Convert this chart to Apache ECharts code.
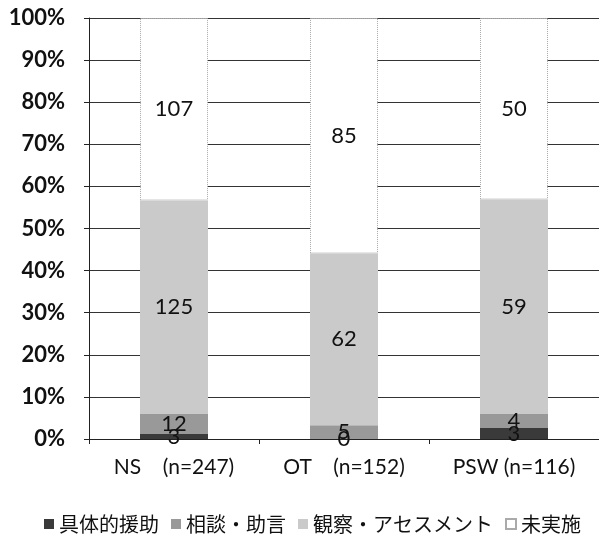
<!DOCTYPE html>
<html><head><meta charset="utf-8">
<script src="https://cdn.jsdelivr.net/npm/echarts@6/dist/echarts.min.js"></script>
<style>html,body{margin:0;padding:0;background:#fff}#c{width:599px;height:543px}</style>
</head><body><div id="c"></div>
<script>
var categories = ['NS    (n=247)', 'OT    (n=152)', 'PSW (n=116)'];
var seriesNames = ['具体的援助', '相談・助言', '観察・アセスメント', '未実施'];
var concrete = [3, 0, 3];
var consult = [12, 5, 4];
var observe = [125, 62, 59];
var notDone = [107, 85, 50];
var yTicks = [0, 10, 20, 30, 40, 50, 60, 70, 80, 90, 100];

var raw = [concrete, consult, observe, notDone];
var totals = categories.map(function (_, i) { return raw.reduce(function (s, a) { return s + a[i]; }, 0); });
var colors = ['#3a3a3a', '#999999', '#cacaca', '#ffffff'];

var series = raw.map(function (arr, k) {
  return {
    name: seriesNames[k], type: 'bar', stack: 'all', barWidth: '40%',
    data: arr.map(function (v, i) { return { value: v / totals[i] * 100, raw: v }; }),
    itemStyle: k === 3 ? { color: '#fff', borderColor: '#aaa', borderWidth: 1, borderType: 'dotted' } : { color: colors[k] },
    label: {
      show: true, position: 'inside', color: '#111', fontSize: 22, fontFamily: 'Lato',
      formatter: function (p) { return p.data.raw; }
    }
  };
});

var chart = echarts.init(document.getElementById('c'), null, { renderer: 'canvas' });
chart.setOption({
  animation: false,
  grid: { left: 89, right: -3, top: 18, bottom: 104 },
  xAxis: {
    type: 'category', data: categories,
    axisLine: { lineStyle: { color: '#222' } },
    axisTick: { show: true, length: 5, lineStyle: { color: '#222' } },
    axisLabel: { color: '#111', fontSize: 21, fontFamily: 'Lato', margin: 18, interval: 0, hideOverlap: false }
  },
  yAxis: {
    type: 'value', min: yTicks[0], max: yTicks[yTicks.length - 1], interval: 10,
    axisLine: { show: true, lineStyle: { color: '#222' } },
    axisTick: { show: true, length: 5, lineStyle: { color: '#222' } },
    axisLabel: { color: '#111', fontSize: 22, fontWeight: 'bold', fontFamily: 'Lato', margin: 24, formatter: '{value}%' },
    splitLine: { lineStyle: { color: '#333', width: 1 } }
  },
  legend: {
    bottom: 4, left: 39, itemWidth: 10, itemHeight: 10, itemGap: 12,
    icon: 'rect',
    textStyle: { fontSize: 20, color: '#111', fontFamily: 'Noto Sans CJK JP' },
    data: seriesNames
  },
  series: series
});
</script></body></html>
